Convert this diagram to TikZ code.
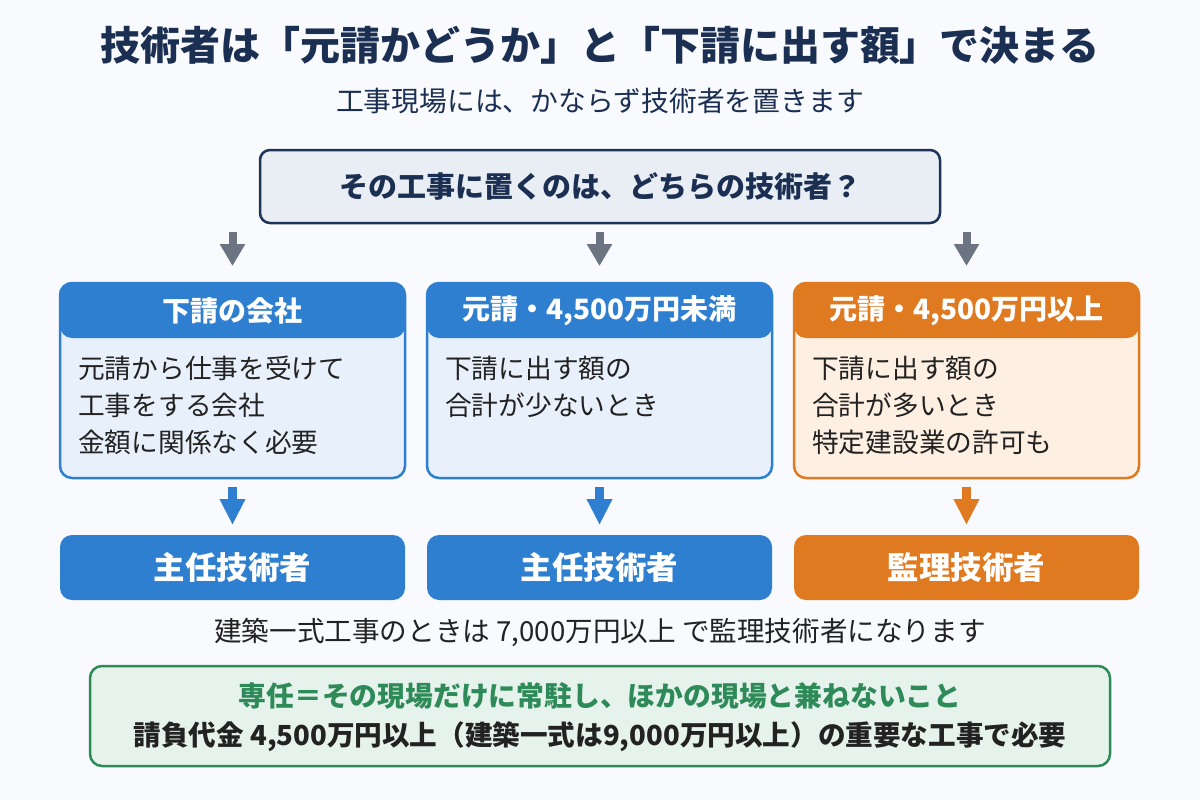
\documentclass[tikz,border=0pt]{standalone}
\usepackage{fontspec}
\setmainfont{Noto Sans CJK JP}
\usetikzlibrary{arrows.meta,calc}
\definecolor{bg}{HTML}{F8FAFD}
\definecolor{navy}{HTML}{1B2F52}
\definecolor{qfill}{HTML}{E9EEF5}
\definecolor{qdraw}{HTML}{1C3458}
\definecolor{garrowc}{HTML}{6B7480}
\definecolor{blu}{HTML}{2F7FD0}
\definecolor{blubody}{HTML}{E8F1FB}
\definecolor{org}{HTML}{E07A20}
\definecolor{orgbody}{HTML}{FDF0E2}
\definecolor{grn}{HTML}{2E8A58}
\definecolor{grnfill}{HTML}{E6F3EC}
\definecolor{ink}{HTML}{222222}
\tikzset{
  fs/.style={font=\fontsize{#1}{#1}\selectfont},
  fsb/.style={font=\fontsize{#1}{#1}\selectfont\bfseries},
  cardbox/.style={draw=#1, line width=2.5pt, rounded corners=12pt, outer sep=0pt,
    minimum width=345pt, minimum height=195pt, inner sep=0pt,
    path picture={\fill[#1] (path picture bounding box.north west) rectangle ([yshift=-55pt]path picture bounding box.north east);}},
  headtxt/.style={fsb=28, text=white, inner sep=0pt},
  bodytxt/.style={fs=26.7, text=ink, inner sep=0pt, anchor=base west},
  resbox/.style={fill=#1, rounded corners=12pt, minimum width=345pt, minimum height=65pt,
    outer sep=0pt, text=white, fsb=31.5},
  garrow/.style={draw=garrowc, line width=8pt, -{Triangle[length=22pt 0 0,width=24pt 0 0]}},
  carrow/.style={draw=#1, line width=9pt, -{Triangle[length=26pt 0 0,width=24pt 0 0]}},
}
\begin{document}
\begin{tikzpicture}[x=1pt,y=-1pt]
\fill[bg] (0,0) rectangle (1200,800);
\useasboundingbox (0,0) rectangle (1200,800);

\node[fsb=40, text=navy] (title) at (600,45) {技術者は「元請かどうか」と「下請に出す額」で決まる};
\node[fs=27.8, text=navy] (sub) at (600,101) {工事現場には、かならず技術者を置きます};

\node[fill=qfill, draw=qdraw, line width=2.5pt, rounded corners=10pt, outer sep=0pt,
  minimum width=680pt, minimum height=73pt, text=navy, fsb=29] (q) at (600,186.5)
  {その工事に置くのは、どちらの技術者？};

% cards
\node[cardbox=blu, fill=blubody] (c1) at (232.5,380.5) {};
\node[cardbox=blu, fill=blubody] (c2) at (599.5,380.5) {};
\node[cardbox=org, fill=orgbody] (c3) at (966.5,380.5) {};

\node[headtxt] (h1) at (232.5,310.5) {下請の会社};
\node[headtxt] (h2) at (599.5,310.5) {元請・4,500万円未満};
\node[headtxt] (h3) at (966.5,310.5) {元請・4,500万円以上};

\node[bodytxt] (b11) at (78,378) {元請から仕事を受けて};
\node[bodytxt] (b12) at (78,415) {工事をする会社};
\node[bodytxt] (b13) at (78,452) {金額に関係なく必要};
\node[bodytxt] (b21) at (445,378) {下請に出す額の};
\node[bodytxt] (b22) at (445,415) {合計が少ないとき};
\node[bodytxt] (b31) at (812,378) {下請に出す額の};
\node[bodytxt] (b32) at (812,415) {合計が多いとき};
\node[bodytxt] (b33) at (812,452) {特定建設業の許可も};

% results
\node[resbox=blu] (r1) at (232.5,567.5) {主任技術者};
\node[resbox=blu] (r2) at (599.5,567.5) {主任技術者};
\node[resbox=org] (r3) at (966.5,567.5) {監理技術者};

% arrows
\foreach \c in {c1,c2,c3}{
  \draw[garrow] ($(q.south -| \c.north)+(0,9)$) -- ($(\c.north)+(0,-17)$);
}
\draw[carrow=blu] ($(c1.south)+(0,9)$) -- ($(r1.north)+(0,-10)$);
\draw[carrow=blu] ($(c2.south)+(0,9)$) -- ($(r2.north)+(0,-10)$);
\draw[carrow=org] ($(c3.south)+(0,9)$) -- ($(r3.north)+(0,-10)$);

\node[fs=27.6, text=ink] (note) at (600,632) {建築一式工事のときは 7,000万円以上 で監理技術者になります};

\node[fill=grnfill, draw=grn, line width=2.5pt, rounded corners=12pt, outer sep=0pt,
  minimum width=1020pt, minimum height=100pt] (g) at (600,716) {};
\node[fsb=27.8, text=grn, inner sep=0pt] (g1) at (600,696) {専任＝その現場だけに常駐し、ほかの現場と兼ねないこと};
\node[fsb=27.6, text=ink, inner sep=0pt] (g2) at (600,737) {請負代金 4,500万円以上（建築一式は9,000万円以上）の重要な工事で必要};
\end{tikzpicture}
\end{document}
